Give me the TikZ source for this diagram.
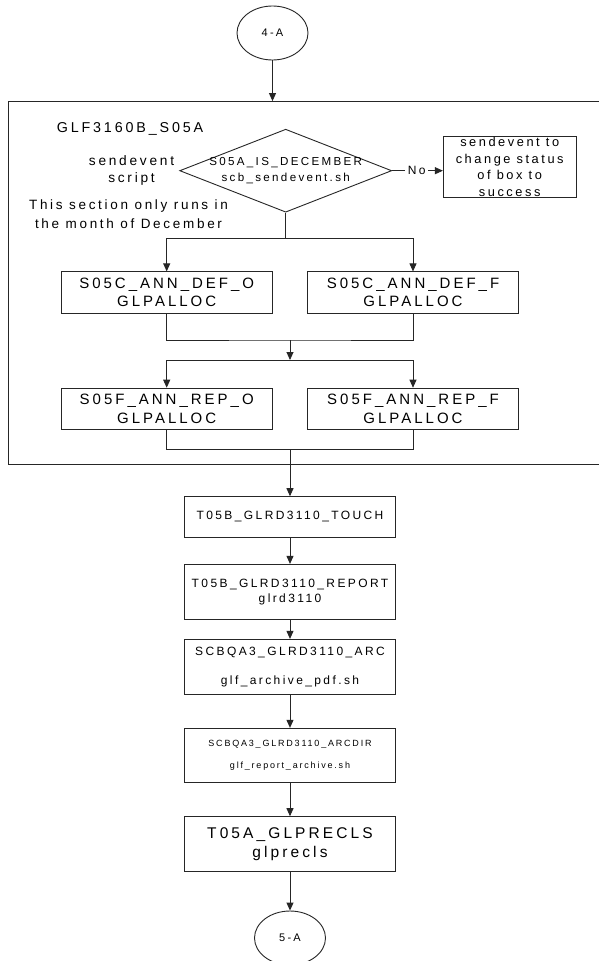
\documentclass[tikz,border=0pt]{standalone}
\usepackage{fontspec}
\setmainfont{Liberation Sans}
\newfontfamily\tracked[LetterSpace=20]{Liberation Sans}
\usetikzlibrary{arrows.meta, shapes.geometric}
\definecolor{cline}{HTML}{262626}
\tikzset{
  every picture/.style={line width=0.9pt},
  fs/.style 2 args={font=\tracked\fontsize{#1}{#2}\selectfont},
  box/.style={draw=cline, align=center, inner sep=0pt, minimum width=211.4pt},
  offpage/.style={draw=cline, ellipse, inner sep=0pt, minimum width=71pt, minimum height=54pt, fs={11}{13}},
  decision/.style={draw=cline, diamond, inner sep=0pt, minimum width=212pt, minimum height=83pt},
  arrow/.style={draw=cline, -{Triangle[length=8pt, width=7pt]}},
  link/.style={draw=cline},
  note/.style={align=center, fs={13.5}{18.3}},
}

\begin{document}
\begin{tikzpicture}[x=1pt, y=-1pt]
  \fill[white] (0,0) rectangle (599,961);
  \useasboundingbox (0,0) rectangle (599,961);

  % entry connector and the December section
  \node[offpage] (conA) at (272.5,33) {4-A};
  \node[draw=cline, inner sep=0pt, minimum width=632pt, minimum height=362.5pt] (section) at (324.2,282.8) {};
  \node[fs={14.3}{17}, anchor=west] (secname) at (53,128.5) {GLF3160B\_S05A};

  \node[decision] (isdec) at (285.7,170.7) {};
  \node[fs={11.6}{16}, align=center] (isdectxt) at (isdec) {S05A\_IS\_DECEMBER\\scb\_sendevent.sh};
  \node[note, fs={13.7}{17.6}] (sendnote) at (131.5,170.5) {sendevent\\script};
  \node[note] (decnote) at (128.5,214.2) {This section only runs in\\the month of December};
  \node[fs={12}{14}, inner sep=2pt] (no) at (416.7,170.7) {No};
  \node[box, fs={12.8}{16.5}, minimum width=132.7pt, minimum height=60.6pt] (nobox) at (509.7,167) {sendevent to\\change status\\of box to\\success};

  % allocation jobs, two per row
  \foreach \name/\x/\y/\job in {defo/166.7/292.5/S05C\_ANN\_DEF\_O, deff/413/292.5/S05C\_ANN\_DEF\_F,
                                repo/166.7/408.8/S05F\_ANN\_REP\_O, repf/413/408.8/S05F\_ANN\_REP\_F}
    \node[box, fs={15}{18.4}, minimum height=41.3pt] (\name) at (\x,\y) {\job\\GLPALLOC};

  % report chain below the section
  \node[box, fs={12}{15}, minimum height=40.3pt] (touch) at (290,516.8) {T05B\_GLRD3110\_TOUCH};
  \node[box, fs={12}{15}, minimum height=54.7pt] (report) at (290,591.7) {T05B\_GLRD3110\_REPORT\\glrd3110};
  \node[box, fs={12}{14.65}, minimum height=54.7pt] (arc) at (290,666.7) {SCBQA3\_GLRD3110\_ARC\\[14.65pt]glf\_archive\_pdf.sh};
  \node[box, fs={9}{22}, minimum height=54pt] (arcdir) at (290,755.3) {SCBQA3\_GLRD3110\_ARCDIR\\glf\_report\_archive.sh};
  \node[box, fs={15.5}{19}, minimum height=54.3pt] (glprecls) at (290,843.8) {T05A\_GLPRECLS\\glprecls};
  \node[offpage] (conB) at (290,938) {5-A};

  \coordinate (splitA) at (285.7,238.3);
  \coordinate (mergeA) at (290,340);
  \coordinate (splitB) at (290,360);
  \coordinate (mergeB) at (290,449.3);

  \draw[arrow] (conA) -- (conA |- section.north);
  \draw[link] (isdec.east) -- (no.west);
  \draw[arrow] (no.east) -- (no.east -| nobox.west);
  \draw[link] (isdec.south) -- (splitA);
  \draw[arrow] (splitA) -| (defo.north);
  \draw[arrow] (splitA) -| (deff.north);
  \draw[link] (defo.south) |- (mergeA) -| (deff.south);
  \draw[arrow] (mergeA) -- (splitB);
  \draw[arrow] (splitB) -| (repo.north);
  \draw[arrow] (splitB) -| (repf.north);
  \draw[link] (repo.south) |- (mergeB) -| (repf.south);
  \draw[arrow] (mergeB) -- (touch);
  \foreach \a/\b in {touch/report, report/arc, arc/arcdir, arcdir/glprecls, glprecls/conB}
    \draw[arrow] (\a) -- (\b);
\end{tikzpicture}
\end{document}
